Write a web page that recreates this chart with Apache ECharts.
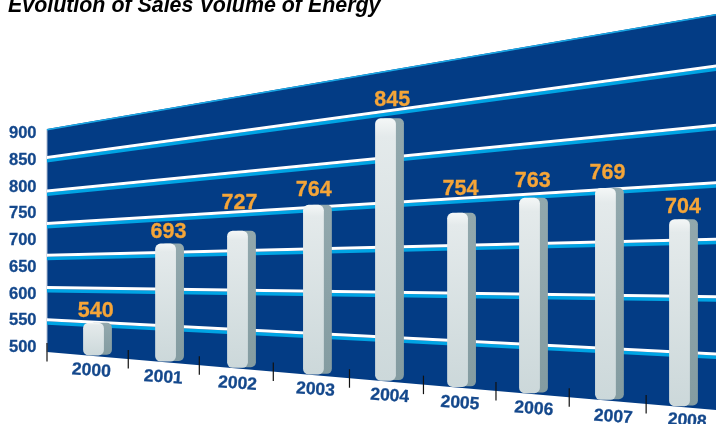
<!DOCTYPE html>
<html lang="en">

<head>
    <title>Evolution of Sales Volume of Energy</title>
    <meta http-equiv="content-type" content="text/html; charset=utf-8">
    <script src="https://cdn.jsdelivr.net/npm/echarts@6/dist/echarts.min.js"></script>
</head>

<style>
    * {
        margin: 0;
        padding: 0;
        box-sizing: border-box;
    }

    html,
    body {
        width: 100%;
        height: 100%;
        background: #fff;
    }

    #main {
        width: 716px;
        height: 424px;
    }
</style>

<body>
    <div id="main"></div>
</body>
<script>
    // data
    const years = [2000, 2001, 2002, 2003, 2004, 2005, 2006, 2007, 2008];
    const salesVolume = [540, 693, 727, 764, 845, 754, 763, 769, 704];
    // the drawing does not follow its printed numbers: where each bar top really sits on the wall scale
    const barLevels = [557, 687, 702, 733, 838, 712, 725, 731, 694];
    const gridLevels = [555, 613, 671, 728, 786, 846];
    const topLevel = 900;
    const floorLevel = 500;
    const tickYears = [1999.3106, 2000.42, 2001.39, 2002.4, 2003.44, 2004.45, 2005.44, 2006.44, 2007.49];

    // hand placement in the original, px
    const barShift = [0, -1.2, -2.5, 0.2, -1, -2.2, -3.5, -0.8, 0];
    const valueShift = [-1.7, -2.2, -4.5, -3.5, 1.7, -3.2, -4.3, -2.8, -0.5];
    const valueGap = [11.7, 11, 27.5, 14.3, 18.3, 23.8, 16.2, 14.5, 12.5];
    const yearShift = [-6.2, -7.5, -6.5, -1.8, -0.8, -3.8, -3.2, 3, 3.7];
    const yearDrop = [14.3, 14.7, 14.6, 14.3, 14.2, 15.1, 14.4, 16.1, 13.7];

    // the wall: y of floor and top line at its left and right end
    const wallFloor = [352, 410];
    const wallTop = [129, 14];

    const navy = '#033c85';
    const cyan = '#00a4e4';
    const labelBlue = '#14488c';
    const orange = '#f5a538';
    const fontName = '"Liberation Sans", Arial, sans-serif';

    // grid px -> px on the slanted wall
    const toWall = (pt, cs) => {
        const t = (pt[0] - cs.x) / cs.width;
        const f = (cs.y + cs.height - pt[1]) / cs.height;
        const floor = wallFloor[0] + (wallFloor[1] - wallFloor[0]) * t;
        const top = wallTop[0] + (wallTop[1] - wallTop[0]) * t;
        return [pt[0], floor - f * (floor - top)];
    };

    const band = (a, b, cs, up, down) => {
        const p = toWall(a, cs);
        const q = toWall(b, cs);
        return [[p[0], p[1] - up], [q[0], q[1] - up], [q[0], q[1] + down], [p[0], p[1] + down]];
    };

    const myChart = echarts.init(document.getElementById('main'), null, { renderer: 'canvas' });

    const xMin = 1999.3106;
    const xMax = 2008.4437;

    const option = {
        animation: false,
        title: {
            text: 'Evolution of Sales Volume of Energy',
            left: 8,
            top: -4,
            padding: 0,
            textStyle: { fontFamily: fontName, fontSize: 21.4, fontWeight: 'bold', fontStyle: 'italic', color: '#000' }
        },
        grid: { left: 47, width: 669, top: 133.5, bottom: 76.5 },
        xAxis: { type: 'value', min: xMin, max: xMax, show: false },
        yAxis: {
            type: 'value',
            min: floorLevel,
            max: topLevel,
            interval: 50,
            axisLine: { show: false },
            axisTick: { show: false },
            splitLine: { show: false },
            axisLabel: { margin: 10.5, color: labelBlue, fontFamily: fontName, fontSize: 16.5, fontWeight: 'bold', textBorderColor: labelBlue, textBorderWidth: 0.3 }
        },
        series: [
            {
                // wall
                type: 'custom',
                clip: false,
                silent: true,
                z: 1,
                data: [[0]],
                renderItem: (params, api) => {
                    const cs = params.coordSys;
                    const poly = band(api.coord([xMin, topLevel]), api.coord([xMax, topLevel]), cs, 0, 0)
                        .slice(0, 2)
                        .concat(band(api.coord([xMin, floorLevel]), api.coord([xMax, floorLevel]), cs, 0, 0).slice(0, 2).reverse());
                    const edge = [toWall(api.coord([xMin, topLevel]), cs), toWall(api.coord([xMin, floorLevel]), cs)];
                    return {
                        type: 'group',
                        children: [
                            { type: 'polygon', shape: { points: poly }, style: { fill: navy } },
                            { type: 'line', shape: { x1: edge[0][0], y1: edge[0][1], x2: edge[1][0], y2: edge[1][1] }, style: { stroke: '#aab8d0', lineWidth: 1 } }
                        ]
                    };
                }
            },
            {
                // grid lines, white on top of cyan
                type: 'custom',
                clip: false,
                silent: true,
                z: 2,
                data: gridLevels.map((v) => [v]),
                renderItem: (params, api) => {
                    const cs = params.coordSys;
                    const a = api.coord([xMin, api.value(0)]);
                    const b = api.coord([xMax, api.value(0)]);
                    return {
                        type: 'group',
                        children: [
                            { type: 'polygon', shape: { points: band(a, b, cs, 0, 3.5) }, style: { fill: cyan } },
                            { type: 'polygon', shape: { points: band(a, b, cs, 3, 0) }, style: { fill: '#fff' } }
                        ]
                    };
                }
            },
            {
                // thin top line
                type: 'custom',
                clip: false,
                silent: true,
                z: 2,
                data: [[topLevel]],
                renderItem: (params, api) => {
                    const cs = params.coordSys;
                    const a = api.coord([xMin, api.value(0)]);
                    const b = api.coord([xMax, api.value(0)]);
                    return { type: 'polygon', shape: { points: band(a, b, cs, 0, 1.6) }, style: { fill: '#1aa9e6' } };
                }
            },
            {
                // floor ticks
                type: 'custom',
                clip: false,
                silent: true,
                z: 3,
                data: tickYears.map((y) => [y]),
                renderItem: (params, api) => {
                    const p = toWall(api.coord([api.value(0), floorLevel]), params.coordSys);
                    return {
                        type: 'line',
                        shape: { x1: p[0], y1: p[1] - 9, x2: p[0], y2: p[1] + 9.5 },
                        style: { stroke: '#111', lineWidth: 1.2 }
                    };
                }
            },
            {
                // bars + their numbers + year labels
                type: 'custom',
                clip: false,
                silent: true,
                z: 4,
                data: years.map((y, i) => [y, barLevels[i], i]),
                renderItem: (params, api) => {
                    const cs = params.coordSys;
                    const i = api.value(2);
                    const nominal = toWall(api.coord([api.value(0), floorLevel]), cs);
                    const top = toWall(api.coord([api.value(0), api.value(1)]), cs);
                    const cx = nominal[0] + barShift[i];
                    const left = cx - 14.4;
                    const bottom = toWall([cx, api.coord([api.value(0), floorLevel])[1]], cs)[1] - 1;
                    const h = bottom - top[1];
                    return {
                        type: 'group',
                        children: [
                            {
                                type: 'rect',
                                shape: { x: left + 6, y: top[1], width: 22.8, height: h - 0.6, r: 5 },
                                style: {
                                    fill: new echarts.graphic.LinearGradient(0, 0, 0, 1, [
                                        { offset: 0, color: '#92a8ad' },
                                        { offset: 1, color: '#849ca1' }
                                    ])
                                }
                            },
                            {
                                type: 'rect',
                                shape: { x: left, y: top[1], width: 20.8, height: h, r: 5.5 },
                                style: {
                                    fill: new echarts.graphic.LinearGradient(0, 0, 0, 1, [
                                        { offset: 0, color: '#f4f7f7' },
                                        { offset: 0.07, color: '#e4eaeb' },
                                        { offset: 1, color: '#ccd8da' }
                                    ])
                                }
                            },
                            {
                                type: 'text',
                                x: nominal[0] + valueShift[i],
                                y: top[1] - valueGap[i],
                                style: {
                                    text: String(salesVolume[i]),
                                    fill: orange,
                                    stroke: orange,
                                    lineWidth: 0.3,
                                    font: 'bold 21.5px ' + fontName,
                                    textAlign: 'center',
                                    textVerticalAlign: 'middle'
                                }
                            },
                            {
                                type: 'text',
                                x: nominal[0] + yearShift[i],
                                y: nominal[1] + yearDrop[i],
                                rotation: -0.07,
                                style: {
                                    text: String(years[i]),
                                    fill: labelBlue,
                                    stroke: labelBlue,
                                    lineWidth: 0.3,
                                    font: 'bold 17.5px ' + fontName,
                                    textAlign: 'center',
                                    textVerticalAlign: 'middle'
                                }
                            }
                        ]
                    };
                }
            }
        ]
    };

    myChart.setOption(option);
</script>

</html>
